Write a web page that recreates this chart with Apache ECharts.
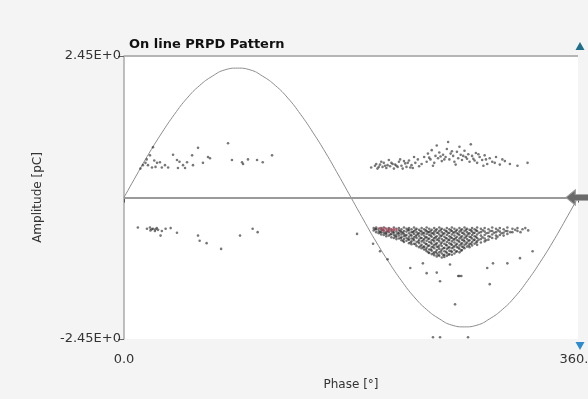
<!DOCTYPE html>
<html>
<head>
<meta charset="utf-8">
<script src="https://cdn.jsdelivr.net/npm/echarts@6/dist/echarts.min.js"></script>
<style>html,body{margin:0;padding:0;background:#f4f4f4}#c{width:588px;height:399px}</style>
</head>
<body>
<div id="c"></div>
<script>
// Axis labels
const xTickLabels = ['0.0', '360.0'];
const yTickLabels = ['-2.45E+0', '2.45E+0'];
const yRange = [-2.45, 2.45];

// Reference sine (phase in degrees, amplitude in pC)
const sinePhase = [0,10,20,30,40,50,60,70,80,90,100,110,120,130,140,150,160,170,180,190,200,210,220,230,240,250,260,270,280,290,300,310,320,330,340,350,360];
const sineAmp = [0,0.39,0.77,1.12,1.44,1.72,1.94,2.1,2.21,2.24,2.21,2.1,1.94,1.72,1.44,1.12,0.77,0.39,0,-0.39,-0.77,-1.12,-1.44,-1.72,-1.94,-2.1,-2.21,-2.24,-2.21,-2.1,-1.94,-1.72,-1.44,-1.12,-0.77,-0.39,0];

// Positive half-cycle discharges, low-phase cluster
const leftPos = [[20.6,0.73],[23,0.87],[19,0.56],[22.2,0.52],[26.2,0.6],[28.5,0.61],[30,0.52],[32.5,0.56],[38.9,0.74],[42,0.65],[42.8,0.51],[46.8,0.56],[48.4,0.51],[50,0.61],[54,0.73],[54.7,0.56],[58.7,0.86],[62.6,0.6],[66.6,0.7],[68.2,0.68],[82.5,0.94],[85.6,0.65],[93.6,0.61],[94.4,0.58],[98.3,0.66],[105.5,0.65],[110,0.61],[117.4,0.73],[15,0.56],[17,0.6],[25,0.53],[35,0.52],[24,0.64],[44,0.62],[13,0.5],[18,0.66]];

// Negative discharges, low-phase cluster
const leftNeg = [[11,-0.52],[18.2,-0.54],[20.6,-0.52],[22,-0.55],[23,-0.54],[24.5,-0.58],[26,-0.53],[27,-0.56],[29,-0.66],[30,-0.58],[33,-0.54],[37,-0.53],[42,-0.61],[58.7,-0.66],[60,-0.75],[65.5,-0.79],[77,-0.89],[92,-0.66],[102,-0.54],[106,-0.6],[21,-0.57],[25,-0.55]];

// Positive discharges, high-phase cluster
const rightPos = [[196,0.52],[199,0.55],[201,0.5],[203,0.57],[205,0.53],[206,0.6],[208,0.51],[209,0.56],[211,0.54],[212,0.6],[214,0.5],[215,0.57],[217,0.53],[218,0.62],[220,0.55],[221,0.5],[223,0.59],[224,0.53],[226,0.64],[228,0.56],[229,0.51],[231,0.6],[233,0.66],[234,0.54],[236,0.58],[204,0.62],[210,0.65],[213,0.58],[219,0.66],[225,0.6],[230,0.7],[207,0.55],[202,0.53],[216,0.55],
[238,0.7],[240,0.62],[241,0.76],[243,0.66],[244,0.82],[246,0.6],[247,0.72],[249,0.68],[250,0.78],[252,0.63],[253,0.74],[255,0.7],[256,0.84],[258,0.66],[259,0.76],[261,0.72],[262,0.62],[264,0.79],[265,0.68],[267,0.74],[268,0.65],[270,0.81],[271,0.7],[273,0.75],[274,0.62],[276,0.72],[277,0.67],[279,0.77],[280,0.6],[282,0.7],[284,0.65],[286,0.73],[288,0.58],[290,0.68],[292,0.62],[295,0.7],[298,0.57],[302,0.63],[306,0.58],[312,0.55],[320,0.6],[248,0.9],[257,0.96],[266,0.88],[275,0.92],[245,0.55],[263,0.57],[285,0.55],
[200,0.58],[222,0.63],[227,0.52],[242,0.69],[251,0.71],[254,0.66],[260,0.8],[269,0.72],[272,0.67],[278,0.64],[281,0.75],[287,0.66],[294,0.6],[300,0.66]];

// Negative discharges, dense high-phase cluster: [phase, [amplitudes]]
const rightNegCols = [
[198,[-0.53,-0.57]],[200,[-0.52,-0.55,-0.6]],[202,[-0.54,-0.58,-0.62]],[204,[-0.53,-0.56,-0.6,-0.64]],
[206,[-0.52,-0.57,-0.61,-0.65]],[208,[-0.54,-0.59,-0.63,-0.67]],[210,[-0.53,-0.56,-0.6,-0.66]],
[212,[-0.55,-0.58,-0.63,-0.69]],[214,[-0.52,-0.57,-0.61,-0.65,-0.7]],[216,[-0.54,-0.59,-0.64,-0.68,-0.72]],
[218,[-0.53,-0.57,-0.62,-0.66,-0.71]],[220,[-0.55,-0.6,-0.64,-0.69,-0.74]],[222,[-0.52,-0.58,-0.63,-0.67,-0.72,-0.77]],
[224,[-0.54,-0.59,-0.65,-0.7,-0.75]],[226,[-0.53,-0.57,-0.62,-0.68,-0.73,-0.79]],[228,[-0.55,-0.6,-0.66,-0.71,-0.76,-0.81]],
[230,[-0.52,-0.58,-0.63,-0.69,-0.74,-0.8]],[232,[-0.54,-0.6,-0.65,-0.7,-0.77,-0.84]],[234,[-0.56,-0.62,-0.67,-0.73,-0.79,-0.86]],
[236,[-0.53,-0.59,-0.64,-0.7,-0.76,-0.82,-0.88]],[238,[-0.55,-0.61,-0.66,-0.72,-0.78,-0.85,-0.9]],
[240,[-0.52,-0.58,-0.63,-0.69,-0.75,-0.81,-0.87,-0.93]],[242,[-0.54,-0.6,-0.65,-0.71,-0.77,-0.83,-0.9,-0.96]],
[244,[-0.56,-0.62,-0.68,-0.74,-0.8,-0.86,-0.92,-0.98]],[246,[-0.53,-0.59,-0.64,-0.7,-0.76,-0.82,-0.88,-0.95,-1.0]],
[248,[-0.55,-0.61,-0.67,-0.73,-0.79,-0.85,-0.91,-0.97,-1.02]],[250,[-0.52,-0.58,-0.64,-0.7,-0.76,-0.83,-0.89,-0.95,-1.01]],
[252,[-0.54,-0.6,-0.66,-0.72,-0.78,-0.84,-0.9,-0.97,-1.04]],[254,[-0.56,-0.62,-0.68,-0.74,-0.8,-0.87,-0.93,-0.99,-1.03]],
[256,[-0.53,-0.59,-0.65,-0.71,-0.77,-0.83,-0.89,-0.96,-1.01]],[258,[-0.55,-0.61,-0.67,-0.73,-0.79,-0.86,-0.92,-0.98]],
[260,[-0.52,-0.58,-0.64,-0.7,-0.76,-0.82,-0.88,-0.94,-0.99]],[262,[-0.54,-0.6,-0.66,-0.72,-0.78,-0.84,-0.91,-0.97]],
[264,[-0.56,-0.62,-0.68,-0.74,-0.8,-0.86,-0.93]],[266,[-0.53,-0.59,-0.65,-0.71,-0.77,-0.83,-0.89,-0.95]],
[268,[-0.55,-0.61,-0.67,-0.73,-0.79,-0.85,-0.91]],[270,[-0.52,-0.58,-0.64,-0.7,-0.76,-0.82,-0.88]],
[272,[-0.54,-0.6,-0.66,-0.72,-0.78,-0.85]],[274,[-0.56,-0.62,-0.68,-0.74,-0.8,-0.86]],
[276,[-0.53,-0.59,-0.65,-0.71,-0.77,-0.83]],[278,[-0.55,-0.61,-0.67,-0.73,-0.8]],
[280,[-0.52,-0.58,-0.64,-0.7,-0.76,-0.82]],[283,[-0.54,-0.6,-0.66,-0.72,-0.78]],
[286,[-0.53,-0.59,-0.65,-0.71,-0.76]],[289,[-0.55,-0.61,-0.67,-0.73]],[292,[-0.52,-0.58,-0.64,-0.7]],
[295,[-0.54,-0.6,-0.66,-0.71]],[298,[-0.53,-0.59,-0.65]],[301,[-0.55,-0.61,-0.66]],[304,[-0.52,-0.58,-0.63]],
[308,[-0.54,-0.6]],[312,[-0.53,-0.58]],[316,[-0.55]]
];

// Additional negative discharges between the columns above
const rightNegFill = [
[199.3,-0.55],[203.1,-0.6],[205.2,-0.56],[207.4,-0.62],[209.1,-0.58],[211.3,-0.64],[213.2,-0.6],[215.1,-0.67],[217.3,-0.62],
[219.2,-0.58],[219.4,-0.7],[221.1,-0.61],[221.3,-0.75],[223.2,-0.66],[225.1,-0.56],[225.4,-0.72],[227.2,-0.65],[227.3,-0.78],
[229.1,-0.6],[229.4,-0.72],[231.2,-0.56],[231.3,-0.67],[231.1,-0.81],[233.2,-0.63],[233.4,-0.76],[235.1,-0.58],[235.3,-0.7],
[235.2,-0.84],[237.1,-0.62],[237.3,-0.74],[237.4,-0.86],[239.2,-0.57],[239.1,-0.69],[239.3,-0.8],[239.4,-0.9],[241.1,-0.6],
[241.3,-0.72],[241.2,-0.84],[241.4,-0.95],[243.1,-0.58],[243.2,-0.66],[243.4,-0.78],[243.3,-0.9],[245.1,-0.62],[245.3,-0.73],
[245.2,-0.85],[245.4,-0.97],[247.2,-0.57],[247.1,-0.69],[247.3,-0.81],[247.4,-0.94],[249.1,-0.61],[249.3,-0.73],[249.2,-0.86],
[249.4,-0.99],[251.2,-0.56],[251.1,-0.67],[251.3,-0.8],[251.4,-0.93],[253.1,-0.63],[253.2,-0.75],[253.4,-0.88],[253.3,-1.0],
[255.2,-0.58],[255.1,-0.7],[255.3,-0.82],[255.4,-0.94],[257.1,-0.62],[257.3,-0.74],[257.2,-0.87],[257.4,-0.99],[259.2,-0.57],
[259.1,-0.69],[259.3,-0.81],[259.4,-0.93],[261.1,-0.61],[261.3,-0.73],[261.2,-0.86],[263.2,-0.58],[263.1,-0.7],[263.3,-0.82],
[263.4,-0.94],[265.1,-0.63],[265.3,-0.75],[265.2,-0.87],[267.2,-0.57],[267.1,-0.69],[267.3,-0.81],[267.4,-0.92],[269.1,-0.62],
[269.3,-0.74],[269.2,-0.86],[271.2,-0.56],[271.1,-0.68],[271.3,-0.8],[273.1,-0.63],[273.2,-0.75],[273.4,-0.83],[275.2,-0.57],
[275.1,-0.69],[275.3,-0.8],[277.1,-0.62],[277.3,-0.74],[279.2,-0.57],[279.1,-0.68],[279.3,-0.78],[281.4,-0.61],[281.2,-0.73],
[284.5,-0.57],[284.3,-0.69],[287.4,-0.62],[287.2,-0.74],[290.5,-0.58],[290.3,-0.68],[293.4,-0.61],[296.5,-0.57],[296.2,-0.68],
[299.4,-0.62],[302.5,-0.58],[306.3,-0.6],[310.2,-0.56],[314.4,-0.6],[318.2,-0.53],[320.5,-0.57]
];

// Sparse negative discharges below the dense cluster
const rightNegSparse = [[184.8,-0.63],[197.5,-0.8],[203,-0.93],[209,-1.07],[227,-1.22],[240,-1.31],[250.6,-1.45],[265,-1.36],[288,-1.22],[304,-1.14],[314,-1.05],[324,-0.93],[292.6,-1.14],[258.5,-1.16],[237,-1.14],[248,-1.3],[266,-1.36],[267.5,-1.36],[290,-1.5],[262.5,-1.85],[245,-2.42],[250.6,-2.42],[272.8,-2.42]];

// Highlighted (red) discharges
const redPts = [[203,-0.53],[205,-0.55],[207,-0.53],[209,-0.56],[211,-0.54],[213,-0.57],[206,-0.58],[210,-0.59],[214,-0.54],[216,-0.56]];

const rightNeg = [];
rightNegCols.forEach(c => c[1].forEach(a => rightNeg.push([c[0], a])));

const font = 'DejaVu Sans';
const dotColor = 'rgba(30,30,30,0.75)';
const leftArrow = 'path://M0,8 L10,0 L10,5 L26,5 L26,11 L10,11 L10,16 Z';

const chart = echarts.init(document.getElementById('c'));
chart.setOption({
  backgroundColor: '#f4f4f4',
  animation: false,
  title: {
    text: 'On line PRPD Pattern', left: 124, top: 33,
    textStyle: { fontFamily: font, fontSize: 13, fontWeight: 'bold', color: '#111' }
  },
  grid: { left: 124, right: 10, top: 56, bottom: 60, show: true, backgroundColor: '#ffffff', borderWidth: 0,
    containLabel: false, outerBoundsMode: 'none' },
  xAxis: {
    type: 'value', min: 0, max: 360, interval: 360,
    name: 'Phase [°]', nameLocation: 'middle', nameGap: 40,
    nameTextStyle: { fontFamily: font, fontSize: 12, color: '#333' },
    axisLine: { show: false },
    axisTick: { show: true, length: 5, lineStyle: { color: '#555' } },
    axisLabel: { fontFamily: font, fontSize: 13, color: '#333', margin: 14,
      formatter: v => v === 0 ? xTickLabels[0] : xTickLabels[1] },
    splitLine: { show: false }
  },
  yAxis: {
    type: 'value', min: yRange[0], max: yRange[1],
    name: 'Amplitude [pC]', nameLocation: 'middle', nameGap: 80,
    nameTextStyle: { fontFamily: font, fontSize: 12, color: '#333' },
    axisLine: { show: true, lineStyle: { color: '#aaa', width: 1.5 } },
    axisTick: { show: true, length: 6, customValues: yRange, lineStyle: { color: '#666' } },
    axisLabel: { fontFamily: font, fontSize: 13, color: '#333', margin: 3, customValues: yRange,
      formatter: v => v < 0 ? yTickLabels[0] : yTickLabels[1] },
    splitLine: { show: false }
  },
  series: [
    {
      type: 'line', data: sinePhase.map((p, i) => [p, sineAmp[i]]), smooth: true, showSymbol: false,
      lineStyle: { color: '#8c8c8c', width: 1 }, silent: true, z: 2
    },
    {
      type: 'scatter', data: leftPos.concat(leftNeg, rightPos, rightNeg, rightNegFill, rightNegSparse),
      symbolSize: 2.6, itemStyle: { color: dotColor }, silent: true, z: 3,
      markLine: {
        silent: true, symbol: 'none', label: { show: false },
        lineStyle: { color: '#9a9a9a', width: 2, type: 'solid' },
        data: [{ yAxis: 0 }, { yAxis: yRange[1], lineStyle: { color: '#b5b5b5', width: 2, type: 'solid' } }]
      },
      markPoint: {
        silent: true, label: { show: false },
        data: [
          { coord: [360, 0], symbol: leftArrow, symbolSize: [24, 15], symbolOffset: [0, 0],
            itemStyle: { color: '#6a6a6a', borderColor: '#999', borderWidth: 1 } },
          { coord: [360, yRange[1]], symbol: 'triangle', symbolSize: [9, 8], symbolOffset: [2, -10], itemStyle: { color: '#1f6f8b' } },
          { coord: [360, yRange[0]], symbol: 'triangle', symbolRotate: 180, symbolSize: [9, 8], symbolOffset: [2, 7], itemStyle: { color: '#2f8ccc' } }
        ]
      }
    },
    {
      type: 'scatter', data: redPts, symbolSize: 2.6, itemStyle: { color: 'rgba(200,70,100,0.85)' }, silent: true, z: 4
    }
  ]
});
</script>
</body>
</html>
